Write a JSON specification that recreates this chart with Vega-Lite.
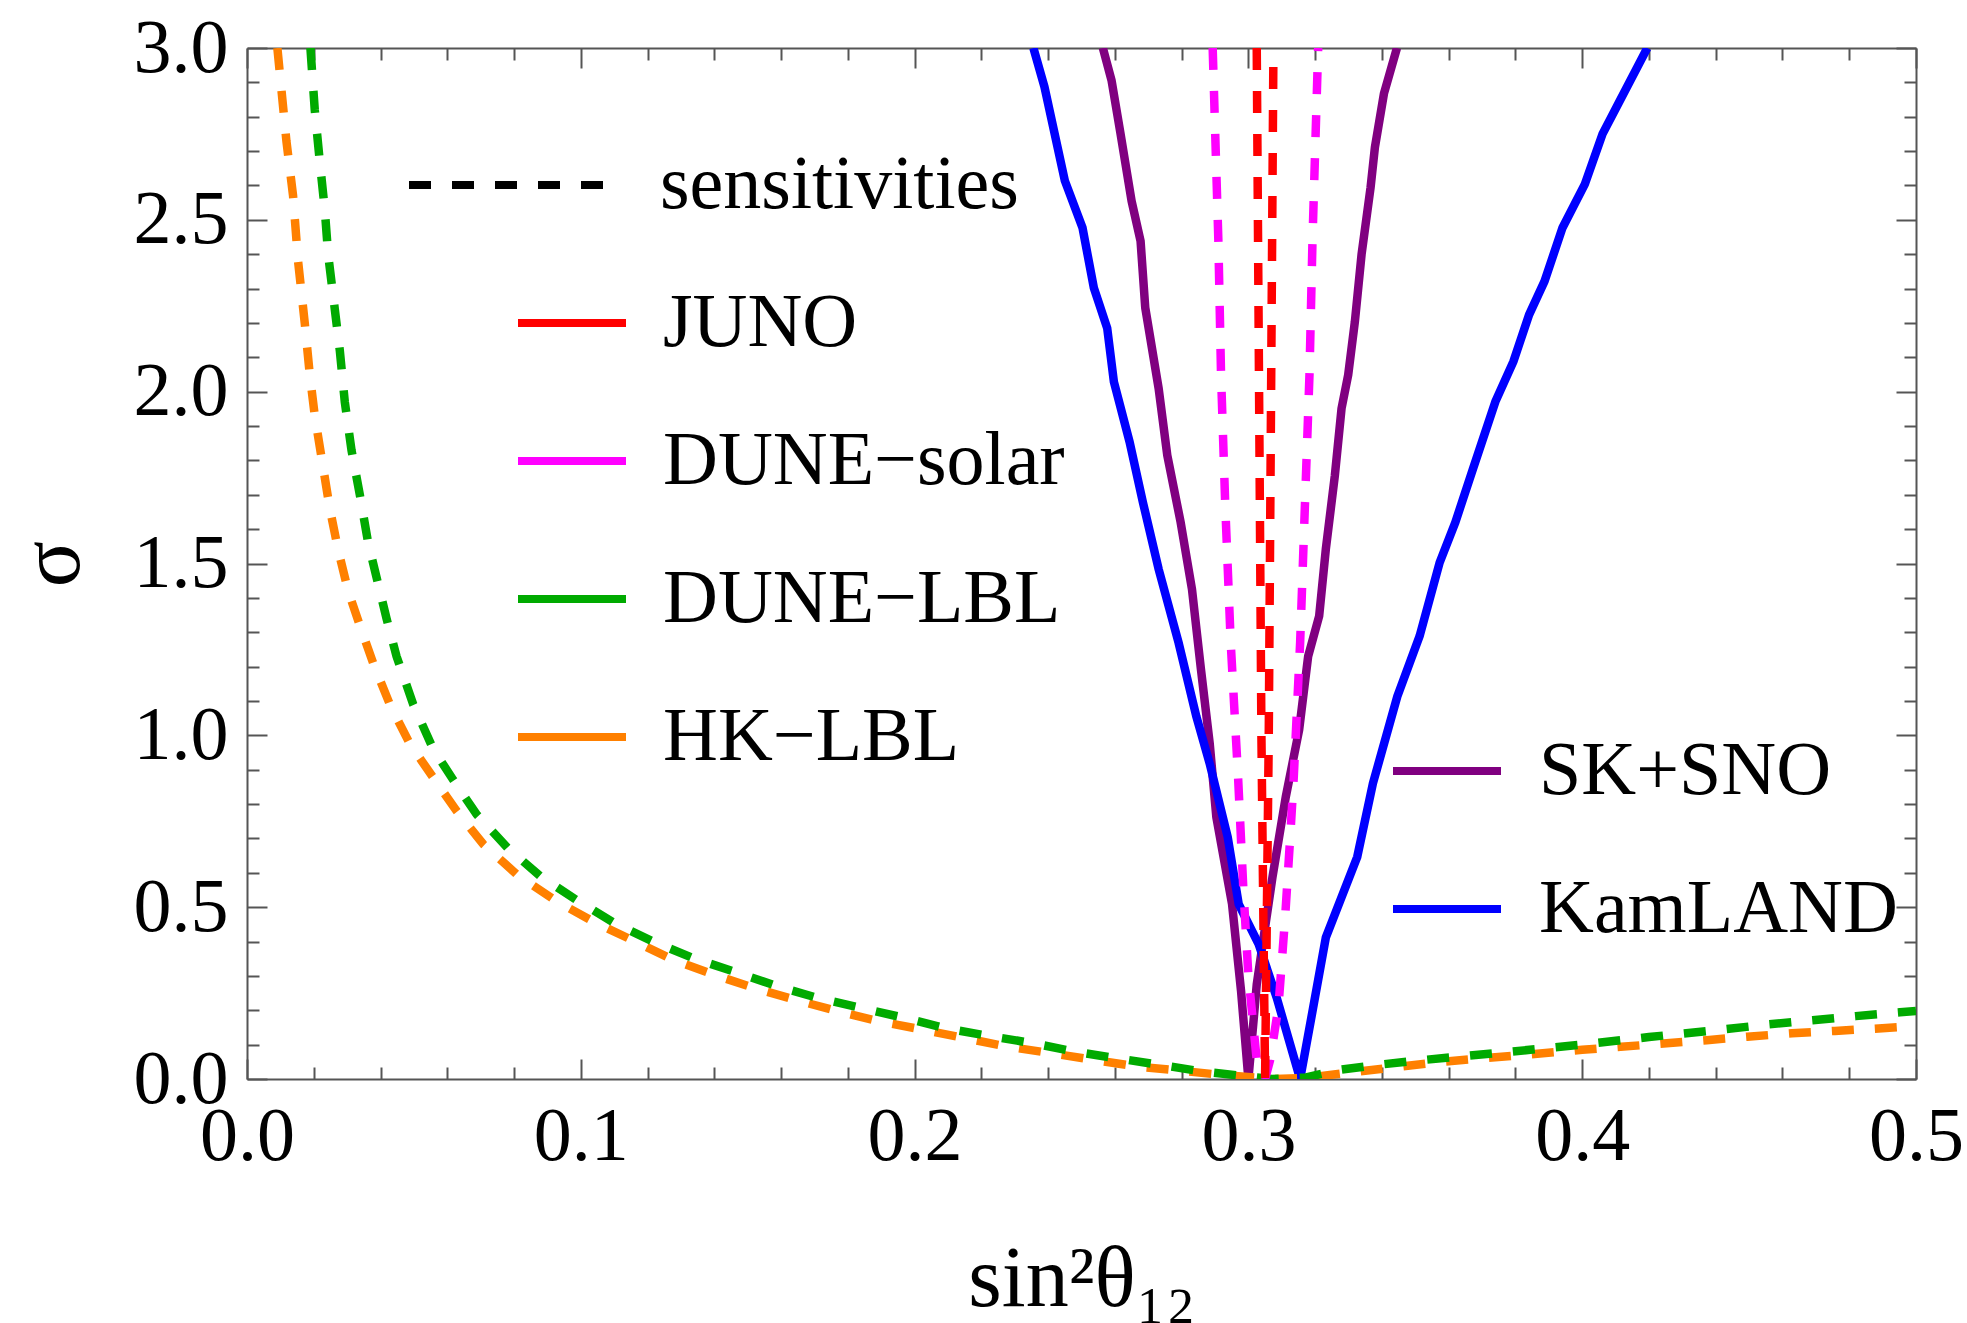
{
  "$schema": "https://vega.github.io/schema/vega-lite/v6.json",
  "width": 1669,
  "height": 1031,
  "autosize": {"type": "none"},
  "padding": {"left": 247, "top": 48, "right": 51, "bottom": 244},
  "background": "white",
  "config": {
    "view": {"stroke": null},
    "axis": {
      "labelFont": "Liberation Serif", "labelFontSize": 76, "labelColor": "black",
      "titleFont": "Liberation Serif", "titleFontSize": 86, "titleFontWeight": "normal", "titleColor": "black",
      "grid": false, "domainColor": "#555555", "domainWidth": 2, "tickColor": "#555555", "tickWidth": 2,
      "labelFlush": false, "labelOverlap": false, "labelBound": false
    },
    "legend": {
      "labelFont": "Liberation Serif", "labelFontSize": 76, "labelColor": "black",
      "padding": 0, "symbolStrokeWidth": 8, "symbolType": "stroke", "labelLimit": 0
    }
  },
  "datasets": {
    "lbl": [
      {"exp": "HK−LBL", "kind": "sensitivities", "x": 0.0091, "s": 3.0},
      {"exp": "HK−LBL", "kind": "sensitivities", "x": 0.0118, "s": 2.73},
      {"exp": "HK−LBL", "kind": "sensitivities", "x": 0.0138, "s": 2.57},
      {"exp": "HK−LBL", "kind": "sensitivities", "x": 0.0153, "s": 2.38},
      {"exp": "HK−LBL", "kind": "sensitivities", "x": 0.0173, "s": 2.2},
      {"exp": "HK−LBL", "kind": "sensitivities", "x": 0.0188, "s": 2.05},
      {"exp": "HK−LBL", "kind": "sensitivities", "x": 0.0203, "s": 1.93},
      {"exp": "HK−LBL", "kind": "sensitivities", "x": 0.0223, "s": 1.81},
      {"exp": "HK−LBL", "kind": "sensitivities", "x": 0.0248, "s": 1.66},
      {"exp": "HK−LBL", "kind": "sensitivities", "x": 0.0273, "s": 1.54},
      {"exp": "HK−LBL", "kind": "sensitivities", "x": 0.0303, "s": 1.42},
      {"exp": "HK−LBL", "kind": "sensitivities", "x": 0.0338, "s": 1.32},
      {"exp": "HK−LBL", "kind": "sensitivities", "x": 0.0378, "s": 1.21},
      {"exp": "HK−LBL", "kind": "sensitivities", "x": 0.0428, "s": 1.09},
      {"exp": "HK−LBL", "kind": "sensitivities", "x": 0.0488, "s": 0.975},
      {"exp": "HK−LBL", "kind": "sensitivities", "x": 0.0558, "s": 0.877},
      {"exp": "HK−LBL", "kind": "sensitivities", "x": 0.0628, "s": 0.78},
      {"exp": "HK−LBL", "kind": "sensitivities", "x": 0.0708, "s": 0.683},
      {"exp": "HK−LBL", "kind": "sensitivities", "x": 0.0812, "s": 0.592},
      {"exp": "HK−LBL", "kind": "sensitivities", "x": 0.0926, "s": 0.518},
      {"exp": "HK−LBL", "kind": "sensitivities", "x": 0.1041, "s": 0.456},
      {"exp": "HK−LBL", "kind": "sensitivities", "x": 0.1163, "s": 0.4},
      {"exp": "HK−LBL", "kind": "sensitivities", "x": 0.1278, "s": 0.346},
      {"exp": "HK−LBL", "kind": "sensitivities", "x": 0.14, "s": 0.303},
      {"exp": "HK−LBL", "kind": "sensitivities", "x": 0.1522, "s": 0.264},
      {"exp": "HK−LBL", "kind": "sensitivities", "x": 0.1644, "s": 0.23},
      {"exp": "HK−LBL", "kind": "sensitivities", "x": 0.1774, "s": 0.196},
      {"exp": "HK−LBL", "kind": "sensitivities", "x": 0.1897, "s": 0.167},
      {"exp": "HK−LBL", "kind": "sensitivities", "x": 0.2027, "s": 0.143},
      {"exp": "HK−LBL", "kind": "sensitivities", "x": 0.2156, "s": 0.118},
      {"exp": "HK−LBL", "kind": "sensitivities", "x": 0.2279, "s": 0.094},
      {"exp": "HK−LBL", "kind": "sensitivities", "x": 0.2409, "s": 0.075},
      {"exp": "HK−LBL", "kind": "sensitivities", "x": 0.2539, "s": 0.055},
      {"exp": "HK−LBL", "kind": "sensitivities", "x": 0.2669, "s": 0.036},
      {"exp": "HK−LBL", "kind": "sensitivities", "x": 0.2798, "s": 0.024},
      {"exp": "HK−LBL", "kind": "sensitivities", "x": 0.2928, "s": 0.011},
      {"exp": "HK−LBL", "kind": "sensitivities", "x": 0.307, "s": 0.0},
      {"exp": "HK−LBL", "kind": "sensitivities", "x": 0.317, "s": 0.003},
      {"exp": "HK−LBL", "kind": "sensitivities", "x": 0.3324, "s": 0.021},
      {"exp": "HK−LBL", "kind": "sensitivities", "x": 0.3454, "s": 0.036},
      {"exp": "HK−LBL", "kind": "sensitivities", "x": 0.3579, "s": 0.05},
      {"exp": "HK−LBL", "kind": "sensitivities", "x": 0.38, "s": 0.068},
      {"exp": "HK−LBL", "kind": "sensitivities", "x": 0.4, "s": 0.085},
      {"exp": "HK−LBL", "kind": "sensitivities", "x": 0.42, "s": 0.1},
      {"exp": "HK−LBL", "kind": "sensitivities", "x": 0.4373, "s": 0.113},
      {"exp": "HK−LBL", "kind": "sensitivities", "x": 0.4495, "s": 0.123},
      {"exp": "HK−LBL", "kind": "sensitivities", "x": 0.4628, "s": 0.133},
      {"exp": "HK−LBL", "kind": "sensitivities", "x": 0.4757, "s": 0.14},
      {"exp": "HK−LBL", "kind": "sensitivities", "x": 0.4888, "s": 0.147},
      {"exp": "HK−LBL", "kind": "sensitivities", "x": 0.5, "s": 0.154},
      {"exp": "DUNE−LBL", "kind": "sensitivities", "x": 0.019, "s": 3.0},
      {"exp": "DUNE−LBL", "kind": "sensitivities", "x": 0.0203, "s": 2.82},
      {"exp": "DUNE−LBL", "kind": "sensitivities", "x": 0.0218, "s": 2.67},
      {"exp": "DUNE−LBL", "kind": "sensitivities", "x": 0.0233, "s": 2.53},
      {"exp": "DUNE−LBL", "kind": "sensitivities", "x": 0.0243, "s": 2.4},
      {"exp": "DUNE−LBL", "kind": "sensitivities", "x": 0.0263, "s": 2.24},
      {"exp": "DUNE−LBL", "kind": "sensitivities", "x": 0.0278, "s": 2.12},
      {"exp": "DUNE−LBL", "kind": "sensitivities", "x": 0.0293, "s": 1.97},
      {"exp": "DUNE−LBL", "kind": "sensitivities", "x": 0.0313, "s": 1.83},
      {"exp": "DUNE−LBL", "kind": "sensitivities", "x": 0.0338, "s": 1.7},
      {"exp": "DUNE−LBL", "kind": "sensitivities", "x": 0.0363, "s": 1.56},
      {"exp": "DUNE−LBL", "kind": "sensitivities", "x": 0.0388, "s": 1.46},
      {"exp": "DUNE−LBL", "kind": "sensitivities", "x": 0.0418, "s": 1.34},
      {"exp": "DUNE−LBL", "kind": "sensitivities", "x": 0.0448, "s": 1.23},
      {"exp": "DUNE−LBL", "kind": "sensitivities", "x": 0.0498, "s": 1.09},
      {"exp": "DUNE−LBL", "kind": "sensitivities", "x": 0.0558, "s": 0.96},
      {"exp": "DUNE−LBL", "kind": "sensitivities", "x": 0.0618, "s": 0.87},
      {"exp": "DUNE−LBL", "kind": "sensitivities", "x": 0.0688, "s": 0.77},
      {"exp": "DUNE−LBL", "kind": "sensitivities", "x": 0.0781, "s": 0.672},
      {"exp": "DUNE−LBL", "kind": "sensitivities", "x": 0.088, "s": 0.589},
      {"exp": "DUNE−LBL", "kind": "sensitivities", "x": 0.0987, "s": 0.521},
      {"exp": "DUNE−LBL", "kind": "sensitivities", "x": 0.1102, "s": 0.453},
      {"exp": "DUNE−LBL", "kind": "sensitivities", "x": 0.1216, "s": 0.4},
      {"exp": "DUNE−LBL", "kind": "sensitivities", "x": 0.1339, "s": 0.351},
      {"exp": "DUNE−LBL", "kind": "sensitivities", "x": 0.1461, "s": 0.312},
      {"exp": "DUNE−LBL", "kind": "sensitivities", "x": 0.1591, "s": 0.269},
      {"exp": "DUNE−LBL", "kind": "sensitivities", "x": 0.1713, "s": 0.235},
      {"exp": "DUNE−LBL", "kind": "sensitivities", "x": 0.1843, "s": 0.206},
      {"exp": "DUNE−LBL", "kind": "sensitivities", "x": 0.1973, "s": 0.177},
      {"exp": "DUNE−LBL", "kind": "sensitivities", "x": 0.2095, "s": 0.147},
      {"exp": "DUNE−LBL", "kind": "sensitivities", "x": 0.2225, "s": 0.125},
      {"exp": "DUNE−LBL", "kind": "sensitivities", "x": 0.2355, "s": 0.104},
      {"exp": "DUNE−LBL", "kind": "sensitivities", "x": 0.2478, "s": 0.08},
      {"exp": "DUNE−LBL", "kind": "sensitivities", "x": 0.2607, "s": 0.06},
      {"exp": "DUNE−LBL", "kind": "sensitivities", "x": 0.2737, "s": 0.041},
      {"exp": "DUNE−LBL", "kind": "sensitivities", "x": 0.2867, "s": 0.021},
      {"exp": "DUNE−LBL", "kind": "sensitivities", "x": 0.2974, "s": 0.01},
      {"exp": "DUNE−LBL", "kind": "sensitivities", "x": 0.307, "s": 0.0},
      {"exp": "DUNE−LBL", "kind": "sensitivities", "x": 0.317, "s": 0.004},
      {"exp": "DUNE−LBL", "kind": "sensitivities", "x": 0.3268, "s": 0.026},
      {"exp": "DUNE−LBL", "kind": "sensitivities", "x": 0.3386, "s": 0.041},
      {"exp": "DUNE−LBL", "kind": "sensitivities", "x": 0.3521, "s": 0.055},
      {"exp": "DUNE−LBL", "kind": "sensitivities", "x": 0.377, "s": 0.078},
      {"exp": "DUNE−LBL", "kind": "sensitivities", "x": 0.4, "s": 0.1},
      {"exp": "DUNE−LBL", "kind": "sensitivities", "x": 0.42, "s": 0.122},
      {"exp": "DUNE−LBL", "kind": "sensitivities", "x": 0.4428, "s": 0.145},
      {"exp": "DUNE−LBL", "kind": "sensitivities", "x": 0.456, "s": 0.159},
      {"exp": "DUNE−LBL", "kind": "sensitivities", "x": 0.469, "s": 0.171},
      {"exp": "DUNE−LBL", "kind": "sensitivities", "x": 0.4819, "s": 0.183},
      {"exp": "DUNE−LBL", "kind": "sensitivities", "x": 0.4952, "s": 0.194},
      {"exp": "DUNE−LBL", "kind": "sensitivities", "x": 0.5, "s": 0.198}
    ],
    "solar": [
      {"exp": "DUNE−solar", "kind": "sensitivities", "x": 0.2893, "s": 3.0},
      {"exp": "DUNE−solar", "kind": "sensitivities", "x": 0.291, "s": 2.44},
      {"exp": "DUNE−solar", "kind": "sensitivities", "x": 0.2918, "s": 2.05},
      {"exp": "DUNE−solar", "kind": "sensitivities", "x": 0.2931, "s": 1.66},
      {"exp": "DUNE−solar", "kind": "sensitivities", "x": 0.2947, "s": 1.27},
      {"exp": "DUNE−solar", "kind": "sensitivities", "x": 0.2969, "s": 0.88},
      {"exp": "DUNE−solar", "kind": "sensitivities", "x": 0.2985, "s": 0.55},
      {"exp": "DUNE−solar", "kind": "sensitivities", "x": 0.3, "s": 0.3},
      {"exp": "DUNE−solar", "kind": "sensitivities", "x": 0.3025, "s": 0.055},
      {"exp": "DUNE−solar", "kind": "sensitivities", "x": 0.305, "s": 0.0},
      {"exp": "DUNE−solar", "kind": "sensitivities", "x": 0.3065, "s": 0.055},
      {"exp": "DUNE−solar", "kind": "sensitivities", "x": 0.309, "s": 0.21},
      {"exp": "DUNE−solar", "kind": "sensitivities", "x": 0.311, "s": 0.47},
      {"exp": "DUNE−solar", "kind": "sensitivities", "x": 0.3125, "s": 0.7},
      {"exp": "DUNE−solar", "kind": "sensitivities", "x": 0.3136, "s": 0.88},
      {"exp": "DUNE−solar", "kind": "sensitivities", "x": 0.3155, "s": 1.27},
      {"exp": "DUNE−solar", "kind": "sensitivities", "x": 0.3169, "s": 1.66},
      {"exp": "DUNE−solar", "kind": "sensitivities", "x": 0.3183, "s": 2.05},
      {"exp": "DUNE−solar", "kind": "sensitivities", "x": 0.3192, "s": 2.44},
      {"exp": "DUNE−solar", "kind": "sensitivities", "x": 0.3209, "s": 3.0},
      {"exp": "JUNO", "kind": "sensitivities", "x": 0.3025, "s": 3.0},
      {"exp": "JUNO", "kind": "sensitivities", "x": 0.3032, "s": 2.0},
      {"exp": "JUNO", "kind": "sensitivities", "x": 0.3039, "s": 1.0},
      {"exp": "JUNO", "kind": "sensitivities", "x": 0.305, "s": 0.0},
      {"exp": "JUNO", "kind": "sensitivities", "x": 0.3061, "s": 1.0},
      {"exp": "JUNO", "kind": "sensitivities", "x": 0.3068, "s": 2.0},
      {"exp": "JUNO", "kind": "sensitivities", "x": 0.3075, "s": 3.0}
    ],
    "sksno": [
      {"meas": "SK+SNO", "x": 0.2564, "s": 3.0},
      {"meas": "SK+SNO", "x": 0.259, "s": 2.906},
      {"meas": "SK+SNO", "x": 0.2617, "s": 2.75},
      {"meas": "SK+SNO", "x": 0.265, "s": 2.555},
      {"meas": "SK+SNO", "x": 0.2677, "s": 2.438},
      {"meas": "SK+SNO", "x": 0.2691, "s": 2.244},
      {"meas": "SK+SNO", "x": 0.2731, "s": 2.01},
      {"meas": "SK+SNO", "x": 0.2757, "s": 1.815},
      {"meas": "SK+SNO", "x": 0.2797, "s": 1.62},
      {"meas": "SK+SNO", "x": 0.2831, "s": 1.425},
      {"meas": "SK+SNO", "x": 0.2858, "s": 1.191},
      {"meas": "SK+SNO", "x": 0.2884, "s": 0.977},
      {"meas": "SK+SNO", "x": 0.2904, "s": 0.762},
      {"meas": "SK+SNO", "x": 0.2951, "s": 0.509},
      {"meas": "SK+SNO", "x": 0.2978, "s": 0.256},
      {"meas": "SK+SNO", "x": 0.3, "s": 0.0},
      {"meas": "SK+SNO", "x": 0.3025, "s": 0.275},
      {"meas": "SK+SNO", "x": 0.3072, "s": 0.587},
      {"meas": "SK+SNO", "x": 0.3112, "s": 0.821},
      {"meas": "SK+SNO", "x": 0.3152, "s": 1.016},
      {"meas": "SK+SNO", "x": 0.3179, "s": 1.23},
      {"meas": "SK+SNO", "x": 0.3212, "s": 1.347},
      {"meas": "SK+SNO", "x": 0.3232, "s": 1.542},
      {"meas": "SK+SNO", "x": 0.3259, "s": 1.756},
      {"meas": "SK+SNO", "x": 0.3279, "s": 1.951},
      {"meas": "SK+SNO", "x": 0.3299, "s": 2.049},
      {"meas": "SK+SNO", "x": 0.3319, "s": 2.204},
      {"meas": "SK+SNO", "x": 0.3339, "s": 2.399},
      {"meas": "SK+SNO", "x": 0.3366, "s": 2.594},
      {"meas": "SK+SNO", "x": 0.3379, "s": 2.711},
      {"meas": "SK+SNO", "x": 0.3406, "s": 2.867},
      {"meas": "SK+SNO", "x": 0.3445, "s": 3.0}
    ],
    "kamland": [
      {"meas": "KamLAND", "x": 0.2356, "s": 3.0},
      {"meas": "KamLAND", "x": 0.2389, "s": 2.887},
      {"meas": "KamLAND", "x": 0.245, "s": 2.614},
      {"meas": "KamLAND", "x": 0.2503, "s": 2.477},
      {"meas": "KamLAND", "x": 0.2537, "s": 2.302},
      {"meas": "KamLAND", "x": 0.2577, "s": 2.185},
      {"meas": "KamLAND", "x": 0.2597, "s": 2.029},
      {"meas": "KamLAND", "x": 0.2644, "s": 1.854},
      {"meas": "KamLAND", "x": 0.2684, "s": 1.678},
      {"meas": "KamLAND", "x": 0.2731, "s": 1.484},
      {"meas": "KamLAND", "x": 0.2791, "s": 1.269},
      {"meas": "KamLAND", "x": 0.2844, "s": 1.055},
      {"meas": "KamLAND", "x": 0.2884, "s": 0.918},
      {"meas": "KamLAND", "x": 0.2938, "s": 0.704},
      {"meas": "KamLAND", "x": 0.2971, "s": 0.509},
      {"meas": "KamLAND", "x": 0.3031, "s": 0.392},
      {"meas": "KamLAND", "x": 0.3085, "s": 0.236},
      {"meas": "KamLAND", "x": 0.3155, "s": 0.0},
      {"meas": "KamLAND", "x": 0.3192, "s": 0.197},
      {"meas": "KamLAND", "x": 0.3232, "s": 0.412},
      {"meas": "KamLAND", "x": 0.3326, "s": 0.646},
      {"meas": "KamLAND", "x": 0.3373, "s": 0.86},
      {"meas": "KamLAND", "x": 0.3446, "s": 1.113},
      {"meas": "KamLAND", "x": 0.3513, "s": 1.289},
      {"meas": "KamLAND", "x": 0.3573, "s": 1.503},
      {"meas": "KamLAND", "x": 0.362, "s": 1.62},
      {"meas": "KamLAND", "x": 0.3673, "s": 1.776},
      {"meas": "KamLAND", "x": 0.374, "s": 1.971},
      {"meas": "KamLAND", "x": 0.3794, "s": 2.088},
      {"meas": "KamLAND", "x": 0.3841, "s": 2.224},
      {"meas": "KamLAND", "x": 0.3887, "s": 2.321},
      {"meas": "KamLAND", "x": 0.3941, "s": 2.477},
      {"meas": "KamLAND", "x": 0.4008, "s": 2.604},
      {"meas": "KamLAND", "x": 0.4061, "s": 2.75},
      {"meas": "KamLAND", "x": 0.4108, "s": 2.838},
      {"meas": "KamLAND", "x": 0.4195, "s": 3.0}
    ]
  },
  "layer": [
    {
      "data": {"name": "sksno"},
      "mark": {"type": "line", "strokeWidth": 8.5, "clip": true},
      "encoding": {
        "x": {"field": "x", "type": "quantitative", "scale": {"domain": [0, 0.5], "nice": false, "zero": false},
              "axis": {"orient": "top", "values": [0, 0.1, 0.2, 0.3, 0.4, 0.5], "labels": false, "tickSize": -20, "title": null}},
        "y": {"field": "s", "type": "quantitative", "scale": {"domain": [0, 3], "nice": false, "zero": false},
              "axis": {"orient": "right", "values": [0, 0.5, 1, 1.5, 2, 2.5, 3], "labels": false, "tickSize": -20, "title": null}},
        "color": {"field": "meas", "type": "nominal",
                  "scale": {"domain": ["SK+SNO", "KamLAND"], "range": ["#800080", "#0000ff"]},
                  "legend": {"orient": "none", "legendX": 1142, "legendY": 665, "title": null, "symbolSize": 11664, "labelOffset": 34, "rowPadding": 42, "symbolStrokeWidth": 8}}
      }
    },
    {
      "data": {"name": "kamland"},
      "mark": {"type": "line", "strokeWidth": 8.5, "clip": true},
      "encoding": {
        "x": {"field": "x", "type": "quantitative",
              "axis": {"orient": "top", "values": [0.02, 0.04, 0.06, 0.08, 0.12, 0.14, 0.16, 0.18, 0.22, 0.24, 0.26, 0.28, 0.32, 0.34, 0.36, 0.38, 0.42, 0.44, 0.46, 0.48], "labels": false, "domain": false, "tickSize": -12, "title": null}},
        "y": {"field": "s", "type": "quantitative",
              "axis": {"orient": "right", "values": [0.1, 0.2, 0.3, 0.4, 0.6, 0.7, 0.8, 0.9, 1.1, 1.2, 1.3, 1.4, 1.6, 1.7, 1.8, 1.9, 2.1, 2.2, 2.3, 2.4, 2.6, 2.7, 2.8, 2.9], "labels": false, "domain": false, "tickSize": -12, "title": null}},
        "color": {"field": "meas", "type": "nominal"}
      }
    },
    {
      "data": {"name": "lbl"},
      "mark": {"type": "line", "strokeWidth": 8.5, "clip": true},
      "encoding": {
        "x": {"field": "x", "type": "quantitative",
              "axis": {"orient": "bottom", "values": [0, 0.1, 0.2, 0.3, 0.4, 0.5], "format": ".1f", "tickSize": -20, "labelPadding": 40,
                       "title": "sin²θ₁₂", "titleY": 226, "titleBaseline": "alphabetic"}},
        "y": {"field": "s", "type": "quantitative",
              "axis": {"orient": "left", "values": [0, 0.5, 1, 1.5, 2, 2.5, 3], "format": ".1f", "tickSize": -20, "labelPadding": 39,
                       "title": "σ", "titleX": -195, "titleY": 515.5, "titleAngle": -90, "titleBaseline": "middle", "titleAlign": "center"}},
        "stroke": {"field": "exp", "type": "nominal",
                   "scale": {"domain": ["JUNO", "DUNE−solar", "DUNE−LBL", "HK−LBL"], "range": ["#ff0000", "#ff00ff", "#00aa00", "#ff8000"]},
                   "legend": {"orient": "none", "legendX": 267, "legendY": 217, "title": null, "symbolSize": 11664, "labelOffset": 33, "rowPadding": 42, "symbolStrokeWidth": 8}},
        "strokeDash": {"field": "kind", "type": "nominal",
                       "scale": {"domain": ["sensitivities"], "range": [[22, 21]]},
                       "legend": {"orient": "none", "legendX": 158, "legendY": 34, "title": null, "symbolSize": 39204, "labelOffset": 49, "symbolStrokeColor": "black", "symbolStrokeWidth": 8}}
      }
    },
    {
      "data": {"name": "solar"},
      "mark": {"type": "line", "strokeWidth": 8.5, "clip": true},
      "encoding": {
        "x": {"field": "x", "type": "quantitative",
              "axis": {"orient": "bottom", "values": [0.02, 0.04, 0.06, 0.08, 0.12, 0.14, 0.16, 0.18, 0.22, 0.24, 0.26, 0.28, 0.32, 0.34, 0.36, 0.38, 0.42, 0.44, 0.46, 0.48], "labels": false, "domain": false, "tickSize": -12, "title": null}},
        "y": {"field": "s", "type": "quantitative",
              "axis": {"orient": "left", "values": [0.1, 0.2, 0.3, 0.4, 0.6, 0.7, 0.8, 0.9, 1.1, 1.2, 1.3, 1.4, 1.6, 1.7, 1.8, 1.9, 2.1, 2.2, 2.3, 2.4, 2.6, 2.7, 2.8, 2.9], "labels": false, "domain": false, "tickSize": -12, "title": null}},
        "stroke": {"field": "exp", "type": "nominal"},
        "strokeDash": {"field": "kind", "type": "nominal"}
      }
    }
  ],
  "resolve": {"axis": {"x": "independent", "y": "independent"}}
}
